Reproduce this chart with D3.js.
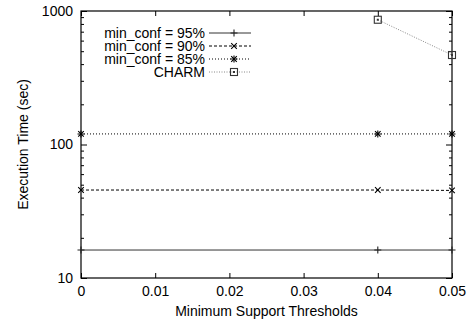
<!DOCTYPE html>
<html>
<head>
<meta charset="utf-8">
<script src="https://cdn.jsdelivr.net/npm/d3@7"></script>
<style>
  body { margin: 0; background: #fff; }
  text { font-family: "Liberation Sans", Arial, sans-serif; }
</style>
</head>
<body>
<div id="chart"></div>
<script>
// data
var thresholds = [0, 0.04, 0.05]
var conf95 = [16.2, 16.2, 16.2]
var conf90 = [45.6, 45.6, 45.3]
var conf85 = [120, 120, 120]
var charmThresholds = [0.04, 0.05]
var charm = [860, 468]

var seriesNames = ["min_conf = 95%", "min_conf = 90%", "min_conf = 85%", "CHARM"]
var xTicks = [0, 0.01, 0.02, 0.03, 0.04, 0.05]
var yTicks = [10, 100, 1000]

var width = 471, height = 325
var margins = {top: 11, right: 19, bottom: 47, left: 81}
var inner_width = width - margins.left - margins.right
var inner_height = height - margins.top - margins.bottom
var fontSize = 14

var svg = d3.select("#chart").append("svg")
            .attr("width", width)
            .attr("height", height)

var g = svg.append("g")
           .attr("transform", "translate(" + margins.left + "," + margins.top + ")")

var scalex = d3.scaleLinear()
               .domain([0, 0.05])
               .range([0, inner_width])

var scaley = d3.scaleLog()
               .domain([10, 1000])
               .range([inner_height, 0])

// minor ticks on log axis
var minorTicks = []
;[10, 100].forEach(function (base) {
   for (var k = 2; k <= 9; k++) minorTicks.push(base * k)
})

function styleAxis(sel) {
   sel.select(".domain").remove()
   sel.selectAll("line").attr("stroke", "#000")
   sel.selectAll("text").attr("font-size", fontSize).attr("fill", "#000")
}

// bottom / top x axes (ticks inward)
g.append("g")
   .attr("transform", "translate(0," + inner_height + ")")
   .call(d3.axisBottom(scalex).tickValues(xTicks).tickSize(-5).tickPadding(8)
         .tickFormat(function (d) { return d === 0 ? "0" : d3.format(".2f")(d) }))
   .call(styleAxis)
g.append("g")
   .call(d3.axisTop(scalex).tickValues(xTicks).tickSize(-5).tickFormat(""))
   .call(styleAxis)

// left / right y axes
g.append("g")
   .call(d3.axisLeft(scaley).tickValues(yTicks).tickSize(-6).tickPadding(8)
         .tickFormat(d3.format("d")))
   .call(styleAxis)
g.append("g")
   .call(d3.axisLeft(scaley).tickValues(minorTicks).tickSize(-3).tickFormat(""))
   .call(styleAxis)
g.append("g")
   .attr("transform", "translate(" + inner_width + ",0)")
   .call(d3.axisRight(scaley).tickValues(yTicks).tickSize(-6).tickFormat(""))
   .call(styleAxis)
g.append("g")
   .attr("transform", "translate(" + inner_width + ",0)")
   .call(d3.axisRight(scaley).tickValues(minorTicks).tickSize(-3).tickFormat(""))
   .call(styleAxis)

// frame
g.append("rect")
   .attr("width", inner_width)
   .attr("height", inner_height)
   .attr("fill", "none")
   .attr("stroke", "#000")
   .attr("stroke-width", 1.2)

// axis titles
svg.append("text")
   .attr("x", margins.left + inner_width / 2)
   .attr("y", 316)
   .attr("text-anchor", "middle")
   .attr("font-size", fontSize)
   .text("Minimum Support Thresholds")

svg.append("text")
   .attr("transform", "translate(28," + (margins.top + inner_height / 2) + ") rotate(-90)")
   .attr("text-anchor", "middle")
   .attr("font-size", fontSize)
   .text("Execution Time (sec)")

// marker drawing
function marker(sel, type, x, y, color) {
   var s = 3.5
   if (type == "plus" || type == "star") {
      sel.append("path").attr("d", "M" + (x - s) + "," + y + "H" + (x + s) + "M" + x + "," + (y - s) + "V" + (y + s))
         .attr("stroke", color).attr("stroke-width", 1.1)
   }
   if (type == "cross" || type == "star") {
      sel.append("path").attr("d", "M" + (x - s * 0.8) + "," + (y - s * 0.8) + "L" + (x + s * 0.8) + "," + (y + s * 0.8)
            + "M" + (x - s * 0.8) + "," + (y + s * 0.8) + "L" + (x + s * 0.8) + "," + (y - s * 0.8))
         .attr("stroke", color).attr("stroke-width", 1.1)
   }
   if (type == "box") {
      sel.append("rect").attr("x", x - 3.5).attr("y", y - 3.5).attr("width", 7).attr("height", 7)
         .attr("fill", "none").attr("stroke", color).attr("stroke-width", 1.1)
      sel.append("rect").attr("x", x - 1).attr("y", y - 1).attr("width", 2).attr("height", 2)
         .attr("fill", color)
   }
}

var series = [
   {name: seriesNames[0], xs: thresholds, ys: conf95, dash: null, color: "#222", lineColor: "#333", mark: "plus"},
   {name: seriesNames[1], xs: thresholds, ys: conf90, dash: "3,2", color: "#000", lineColor: "#000", mark: "cross"},
   {name: seriesNames[2], xs: thresholds, ys: conf85, dash: "1,2", color: "#000", lineColor: "#000", mark: "star"},
   {name: seriesNames[3], xs: charmThresholds, ys: charm, dash: "1,1.5", color: "#333", lineColor: "#888", mark: "box"}
]

var linegenerator = d3.line()
                      .x(function (d) { return scalex(d[0]) })
                      .y(function (d) { return scaley(d[1]) })

series.forEach(function (s) {
   var pts = s.xs.map(function (x, i) { return [x, s.ys[i]] })
   g.append("path")
      .attr("d", linegenerator(pts))
      .attr("fill", "none")
      .attr("stroke", s.lineColor)
      .attr("stroke-width", 1)
      .attr("stroke-dasharray", s.dash)
   pts.forEach(function (p) {
      marker(g, s.mark, scalex(p[0]), scaley(p[1]), s.color)
   })
})

// legend
var legend = svg.append("g")
series.forEach(function (s, i) {
   var y = 33 + i * 13
   legend.append("text")
      .attr("x", 205)
      .attr("y", y)
      .attr("dy", "0.35em")
      .attr("text-anchor", "end")
      .attr("font-size", fontSize)
      .text(s.name)
   legend.append("line")
      .attr("x1", 209).attr("x2", 251)
      .attr("y1", y).attr("y2", y)
      .attr("stroke", s.lineColor)
      .attr("stroke-width", 1)
      .attr("stroke-dasharray", s.dash)
   marker(legend, s.mark, 234, y, s.color)
})
</script>
</body>
</html>
